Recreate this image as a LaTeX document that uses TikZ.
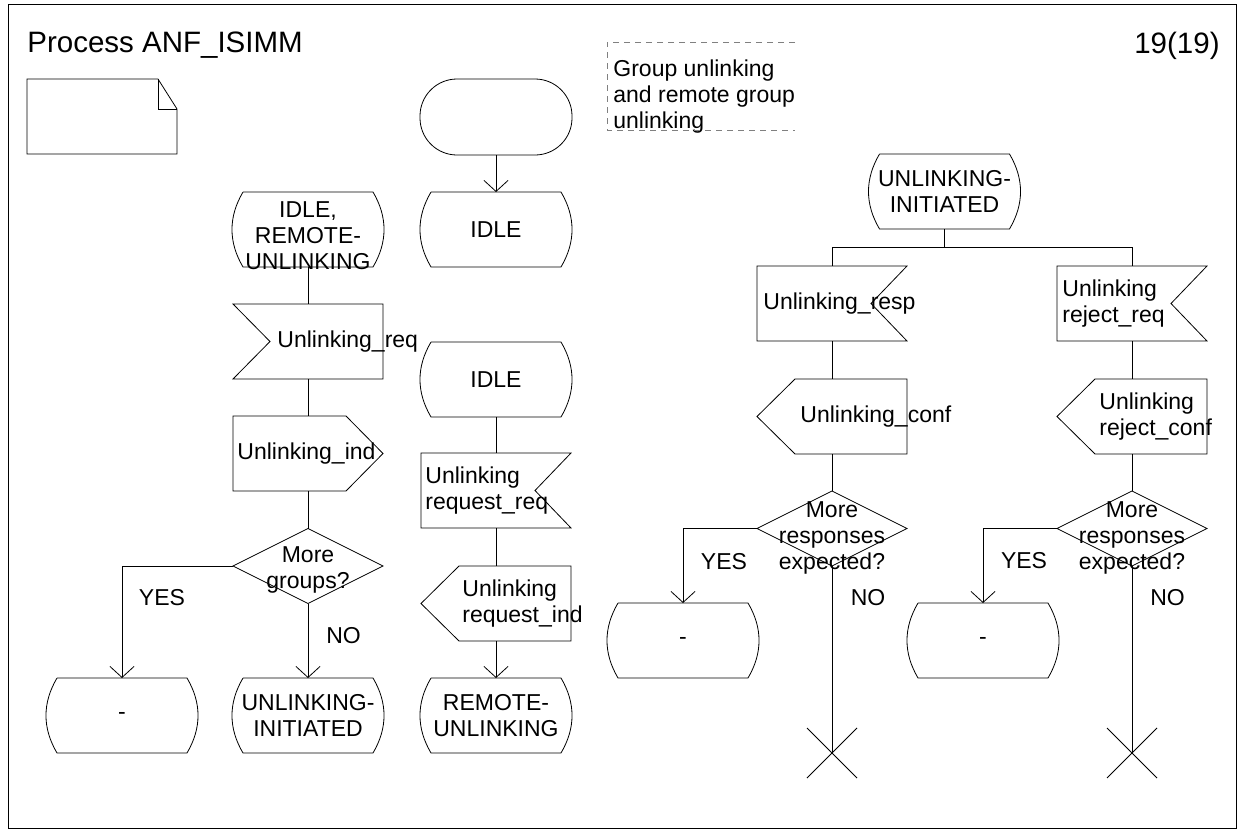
\documentclass[tikz,border=0pt]{standalone}
\usepackage{fontspec}
\setmainfont{Liberation Sans}
\usetikzlibrary{shapes.geometric,arrows.meta}

\tikzset{
  box/.style={minimum width=150pt, minimum height=75pt, inner sep=0pt, outer sep=0pt},
  statebox/.style={box, minimum width=152pt},
  decision/.style={diamond, draw, minimum width=150pt, minimum height=75pt, inner sep=0pt, outer sep=0pt},
  txt/.style={font=\fontsize{23}{26}\selectfont, inner sep=0pt},
  bigtxt/.style={font=\fontsize{29.5}{34}\selectfont, inner sep=0pt},
  sdlarrow/.style={-{Straight Barb[length=11pt,width=24pt]}},
  dashline/.style={draw=gray, dash pattern=on 6pt off 5pt},
}

% outlines of the SDL symbols, drawn round an empty named node
\newcommand{\drawstate}[1]{%
  \draw ([xshift=11pt]#1.north west) -- ([xshift=-11pt]#1.north east)
    .. controls ([xshift=3.7pt,yshift=-25pt]#1.north east) and ([xshift=3.7pt,yshift=25pt]#1.south east) .. ([xshift=-11pt]#1.south east)
    -- ([xshift=11pt]#1.south west)
    .. controls ([xshift=-3.7pt,yshift=25pt]#1.south west) and ([xshift=-3.7pt,yshift=-25pt]#1.north west) .. ([xshift=11pt]#1.north west);}
\newcommand{\drawinl}[1]{%
  \draw (#1.north west) -- (#1.north east) -- (#1.south east) -- (#1.south west) -- ([xshift=37pt]#1.west) -- cycle;}
\newcommand{\drawinr}[1]{%
  \draw (#1.north west) -- (#1.north east) -- ([xshift=-36pt]#1.east) -- (#1.south east) -- (#1.south west) -- cycle;}
\newcommand{\drawoutr}[1]{%
  \draw (#1.north west) -- ([xshift=-37pt]#1.north east) -- (#1.east) -- ([xshift=-37pt]#1.south east) -- (#1.south west) -- cycle;}
\newcommand{\drawoutl}[1]{%
  \draw ([xshift=38pt]#1.north west) -- (#1.north east) -- (#1.south east) -- ([xshift=38pt]#1.south west) -- (#1.west) -- cycle;}
\newcommand{\drawstop}[1]{%
  \draw (#1.north west) -- (#1.south east) (#1.north east) -- (#1.south west);}

\begin{document}
\begin{tikzpicture}[x=1pt, y=-1pt, line width=0.8pt]
\useasboundingbox (0,0) rectangle (1244,830);
\draw (8,4) rectangle (1236,828);
\node[bigtxt, anchor=base west] (title) at (27,52) {Process ANF\_ISIMM};
\node[bigtxt, anchor=base east] (pageno) at (1220,53) {19(19)};

% page symbol and comment
\node[box] (page) at (102,116.5) {};
\draw (page.north west) -- ([xshift=-19pt]page.north east) -- ([yshift=-30pt]page.north east) -- (page.south east) -- (page.south west) -- cycle;
\draw ([xshift=-19pt]page.north east) |- ([yshift=-30pt]page.north east);
\node[box, minimum width=188pt, minimum height=88pt, label={[txt,align=left,anchor=west,xshift=6pt,yshift=-11pt]west:{Group unlinking\\and remote group\\unlinking}}] (note) at (701,86) {};
\draw[dashline] (note.north east) -- (note.north west) -- (note.south west) -- (note.south east);

% left column
\node[statebox, label={[txt,align=center,yshift=-6.5pt]center:{IDLE,\\REMOTE-\\UNLINKING}}] (irem) at (308,229.5) {};
\node[box, label={[txt,anchor=west,xshift=44pt]west:{Unlinking\_req}}] (ureq) at (308,341.5) {};
\node[box, label={[txt,anchor=west,xshift=4pt]west:{Unlinking\_ind}}] (uind) at (308,453.5) {};
\node[decision, label={[txt,align=center,yshift=-4pt]center:{More\\groups?}}] (dec1) at (308,566) {};
\node[statebox, label={[txt,align=center]center:{UNLINKING-\\INITIATED}}] (uinit) at (308,715.5) {};
\node[statebox, label={[txt]center:-}] (dash1) at (122,715.5) {};
\node[txt] (yes1) at (162,598) {YES};
\node[txt] (no1) at (343.5,636) {NO};

% middle column
\node[statebox, draw, rounded corners=37pt, minimum height=76pt] (start) at (496,117) {};
\node[statebox, label={[txt]center:IDLE}] (idle1) at (496,229.5) {};
\node[statebox, label={[txt]center:IDLE}] (idle2) at (496,379.5) {};
\node[box, label={[txt,align=left,anchor=west,xshift=4pt]west:{Unlinking\\request\_req}}] (rreq) at (496,490.5) {};
\node[box, label={[txt,align=left,anchor=west,xshift=41pt]west:{Unlinking\\request\_ind}}] (rind) at (496,603.5) {};
\node[statebox, label={[txt,align=center]center:{REMOTE-\\UNLINKING}}] (rremote) at (496,715.5) {};

% right part
\node[statebox, label={[txt,align=center]center:{UNLINKING-\\INITIATED}}] (uinit2) at (944.5,191.5) {};
\coordinate (fork) at (944.5,247);
\node[box, label={[txt,anchor=west,xshift=6pt]west:{Unlinking\_resp}}] (uresp) at (832,303.5) {};
\node[box, label={[txt,align=left,anchor=west,xshift=5pt]west:{Unlinking\\reject\_req}}] (rejreq) at (1132,303.5) {};
\node[box, label={[txt,anchor=west,xshift=43pt]west:{Unlinking\_conf}}] (uconf) at (832,416.5) {};
\node[box, label={[txt,align=left,anchor=west,xshift=42pt]west:{Unlinking\\reject\_conf}}] (rejconf) at (1132,416.5) {};
\node[decision, label={[txt,align=center,yshift=-9pt]center:{More\\responses\\expected?}}] (dec2) at (832,528.5) {};
\node[decision, label={[txt,align=center,yshift=-9pt]center:{More\\responses\\expected?}}] (dec3) at (1132,528.5) {};
\node[statebox, label={[txt]center:-}] (dash2) at (683,640.5) {};
\node[statebox, label={[txt]center:-}] (dash3) at (983,640.5) {};
\node[minimum size=50pt, inner sep=0pt, outer sep=0pt] (stop1) at (832,753) {};
\node[minimum size=50pt, inner sep=0pt, outer sep=0pt] (stop2) at (1132,753) {};
\node[txt] (yes2) at (724,562) {YES};
\node[txt] (no2) at (868,598) {NO};
\node[txt] (yes3) at (1024,561) {YES};
\node[txt] (no3) at (1167.5,598) {NO};

% symbol outlines
\drawstate{irem}
\drawstate{uinit}
\drawstate{dash1}
\drawstate{idle1}
\drawstate{idle2}
\drawstate{rremote}
\drawstate{uinit2}
\drawstate{dash2}
\drawstate{dash3}
\drawinl{ureq}
\drawoutr{uind}
\drawinr{rreq}
\drawoutl{rind}
\drawinr{uresp}
\drawinr{rejreq}
\drawoutl{uconf}
\drawoutl{rejconf}
\drawstop{stop1}
\drawstop{stop2}

% connectors
\draw (irem) -- (ureq);
\draw (ureq) -- (uind);
\draw (uind) -- (dec1);
\draw[sdlarrow] (dec1) -- (uinit);
\draw[sdlarrow] (dec1.west) -| (dash1);
\draw[sdlarrow] (start) -- (idle1);
\draw (idle2) -- (rreq);
\draw (rreq) -- (rind);
\draw[sdlarrow] (rind) -- (rremote);
\draw (uinit2) -- (fork);
\draw (fork) -| (uresp);
\draw (fork) -| (rejreq);
\draw (uresp) -- (uconf);
\draw (rejreq) -- (rejconf);
\draw (uconf) -- (dec2);
\draw (rejconf) -- (dec3);
\draw[sdlarrow] (dec2.west) -| (dash2);
\draw[sdlarrow] (dec3.west) -| (dash3);
\draw (dec2) -- (stop1.center);
\draw (dec3) -- (stop2.center);
\end{tikzpicture}
\end{document}
